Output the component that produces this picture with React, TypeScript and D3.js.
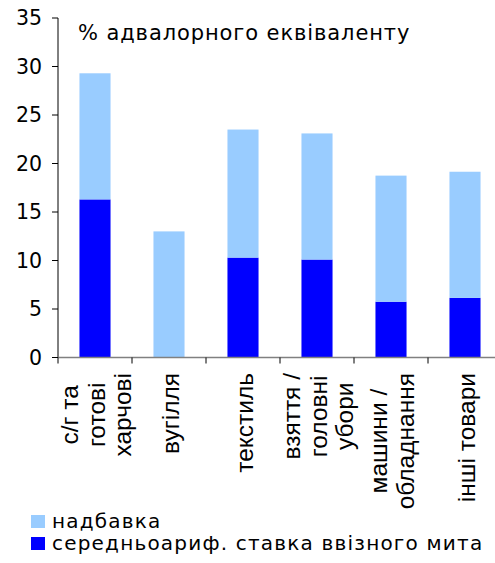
import React, { useEffect, useRef } from "react";
import * as d3 from "d3";

// Category labels, one entry per wrapped line
const categories: string[][] = [
  ["с/г та", "готові", "харчові"],
  ["вугілля"],
  ["текстиль"],
  ["взяття /", "головні", "убори"],
  ["машини /", "обладнання"],
  ["інші товари"],
];

// Average import duty rate, % ad valorem equivalent
const dutyRate: number[] = [16.3, 0, 10.3, 10.1, 5.75, 6.15];
// Surcharge stacked on top, % ad valorem equivalent
const surcharge: number[] = [13.0, 13.0, 13.2, 13.0, 13.0, 13.0];

const yTicks: number[] = [0, 5, 10, 15, 20, 25, 30, 35];

const seriesNames = ["надбавка", "середньоариф. ставка ввізного мита"];
const titleText = "% адвалорного еквіваленту";

const W = 495;
const H = 563;
const COLOR_LIGHT = "#99ccff";
const COLOR_DARK = "#0000ff";
const TICK_FONT = "'DejaVu Sans', Verdana, sans-serif";
const LABEL_FONT = "'Liberation Sans', Arial, sans-serif";

export default function App() {
  const ref = useRef<SVGSVGElement | null>(null);

  useEffect(() => {
    const svg = d3.select(ref.current);
    svg.selectAll("*").remove();

    const left = 58;
    const bandW = 74;
    const top = 18;
    const bottom = 357.5;

    const x = d3
      .scaleBand<number>()
      .domain(d3.range(categories.length))
      .range([left, left + bandW * categories.length])
      .paddingInner(0.58)
      .paddingOuter(0.29);
    const y = d3.scaleLinear().domain([0, 35]).range([bottom, top]);

    // Bars: duty rate at the base, surcharge stacked above
    const g = svg.append("g");
    categories.forEach((_, i) => {
      const base = dutyRate[i];
      const total = base + surcharge[i];
      if (base > 0) {
        g.append("rect")
          .attr("x", x(i)!)
          .attr("width", x.bandwidth())
          .attr("y", y(base))
          .attr("height", y(0) - y(base))
          .attr("fill", COLOR_DARK);
      }
      g.append("rect")
        .attr("x", x(i)!)
        .attr("width", x.bandwidth())
        .attr("y", y(total))
        .attr("height", y(base) - y(total))
        .attr("fill", COLOR_LIGHT);
    });

    // Y axis
    svg
      .append("line")
      .attr("x1", left)
      .attr("x2", left)
      .attr("y1", top)
      .attr("y2", bottom)
      .attr("stroke", "#000")
      .attr("stroke-width", 1);
    yTicks.forEach((t) => {
      svg
        .append("line")
        .attr("x1", left - 6)
        .attr("x2", left)
        .attr("y1", y(t))
        .attr("y2", y(t))
        .attr("stroke", "#000");
      svg
        .append("text")
        .attr("x", 42)
        .attr("y", y(t))
        .attr("dy", "0.36em")
        .attr("text-anchor", "end")
        .attr("font-family", TICK_FONT)
        .attr("font-size", 20.5)
        .attr("fill", "#000")
        .text(t);
    });

    // X axis
    const xEnd = left + bandW * categories.length;
    svg
      .append("line")
      .attr("x1", left)
      .attr("x2", xEnd)
      .attr("y1", bottom)
      .attr("y2", bottom)
      .attr("stroke", "#808080")
      .attr("stroke-width", 1.5);
    d3.range(categories.length + 1).forEach((k) => {
      const tx = left + bandW * k;
      svg
        .append("line")
        .attr("x1", tx)
        .attr("x2", tx)
        .attr("y1", bottom)
        .attr("y2", bottom + 6)
        .attr("stroke", "#000");
    });

    // Rotated category labels, each block hanging below the axis
    const lineH = 26.5;
    const labelTop = 373;
    categories.forEach((lines, i) => {
      const cx = x(i)! + x.bandwidth() / 2;
      const lg = svg
        .append("g")
        .attr("transform", `translate(${cx},${labelTop}) rotate(-90)`);
      const texts = lines.map((s, j) =>
        lg
          .append("text")
          .attr("y", (j - (lines.length - 1) / 2) * lineH + 9.5)
          .attr("text-anchor", "middle")
          .attr("font-family", LABEL_FONT)
          .attr("font-size", 24.5)
          .attr("fill", "#000")
          .text(s)
      );
      const maxLen = d3.max(texts, (t) => (t.node() as SVGTextElement).getComputedTextLength()) || 0;
      texts.forEach((t) => t.attr("x", -maxLen / 2));
    });

    // Title inside the plot
    svg
      .append("text")
      .attr("x", 78)
      .attr("y", 40)
      .attr("font-family", TICK_FONT)
      .attr("font-size", 21)
      .attr("letter-spacing", 0.9)
      .attr("fill", "#000")
      .text(titleText);

    // Legend
    const legendColors = [COLOR_LIGHT, COLOR_DARK];
    seriesNames.forEach((name, i) => {
      const ly = 515 + i * 22;
      svg
        .append("rect")
        .attr("x", 31)
        .attr("y", ly)
        .attr("width", 14)
        .attr("height", 13)
        .attr("fill", legendColors[i]);
      svg
        .append("text")
        .attr("x", 52)
        .attr("y", ly + 13)
        .attr("font-family", TICK_FONT)
        .attr("font-size", 20)
        .attr("letter-spacing", 1.2)
        .attr("fill", "#000")
        .text(name);
    });
  }, []);

  return (
    <svg
      ref={ref}
      width={W}
      height={H}
      style={{ position: "fixed", left: 0, top: 0, background: "#fff", overflow: "hidden" }}
    />
  );
}
